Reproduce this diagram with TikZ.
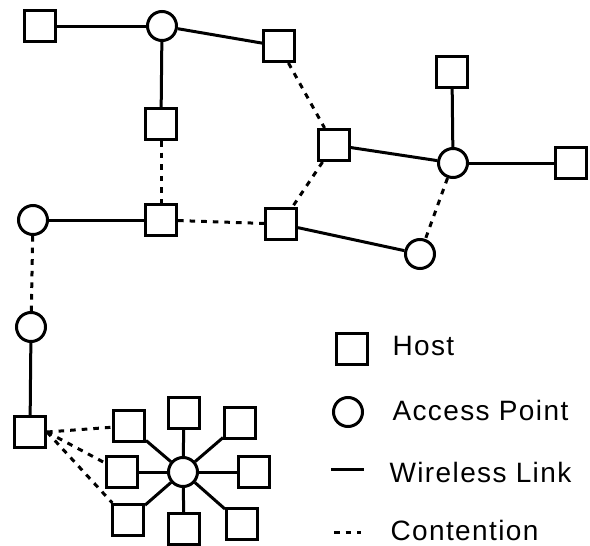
\documentclass[tikz,border=0pt]{standalone}
\usepackage{fontspec}
\setmainfont{Liberation Sans}[LetterSpace=5]

\begin{document}
\begin{tikzpicture}[x=0.5pt, y=-0.5pt, line width=1.5pt,
  host/.style={rectangle, draw, minimum size=15.5pt, inner sep=0pt},
  ap/.style={circle, draw, minimum size=14.5pt, inner sep=0pt},
  contention/.style={dash pattern=on 2.8pt off 3pt},
  legend/.style={anchor=west, inner sep=0pt, font=\fontsize{14}{16}\selectfont}]
\useasboundingbox (0,0) rectangle (590,546);

% upper network
\node[host] (h1) at (40,26) {};
\node[ap] (a1) at (162,26) {};
\node[host] (h2) at (279,46) {};
\node[host] (h3) at (161,124) {};
\node[host] (h4) at (334,145) {};
\node[host] (h5) at (452,72) {};
\node[ap] (a2) at (453,163) {};
\node[host] (h6) at (571,163) {};
\node[ap] (a3) at (33,220) {};
\node[host] (h7) at (161,220) {};
\node[host] (h8) at (281,224) {};
\node[ap] (a4) at (420,254) {};
\node[ap] (a5) at (31,327) {};
\node[host] (h9) at (30,432) {};

% star
\node[ap] (c) at (183,472) {};
\node[host] (s1) at (184,413) {};
\node[host] (s2) at (240,423) {};
\node[host] (s3) at (254,472) {};
\node[host] (s4) at (242,524) {};
\node[host] (s5) at (184,529) {};
\node[host] (s6) at (128,520) {};
\node[host] (s7) at (122,472) {};
\node[host] (s8) at (129,426) {};

\draw (h1) -- (a1);
\draw (a1) -- (h2);
\draw (a1) -- (h3);
\draw[contention] (h2) -- (h4);
\draw[contention] (h3) -- (h7);
\draw (h4) -- (a2);
\draw (a2) -- (h5);
\draw (a2) -- (h6);
\draw[contention] (a2) -- (a4);
\draw[contention] (h4) -- (h8);
\draw[contention] (h7) -- (h8);
\draw (a3) -- (h7);
\draw (h8) -- (a4);
\draw[contention] (a3) -- (a5);
\draw (a5) -- (h9);
\foreach \s in {s1,s2,s3,s4,s5,s6,s7,s8}
  \draw (c) -- (\s);
\draw[contention] (h9.east) -- (s8);
\draw[contention] (h9.east) -- (s7);
\draw[contention] (h9.east) -- (s6);

% legend
\node[host] (khost) at (352,349) {};
\node[legend] (thost) at (391,346) {Host};
\node[ap] (kap) at (348,412) {};
\node[legend] (tap) at (391,410) {Access Point};
\coordinate (kl1) at (331,469);
\coordinate (kl2) at (364,469);
\draw (kl1) -- (kl2);
\node[legend] (tlink) at (388,472) {Wireless Link};
\coordinate (kc1) at (334,532);
\coordinate (kc2) at (361,532);
\draw[contention] (kc1) -- (kc2);
\node[legend] (tcont) at (389,530) {Contention};
\end{tikzpicture}
\end{document}
